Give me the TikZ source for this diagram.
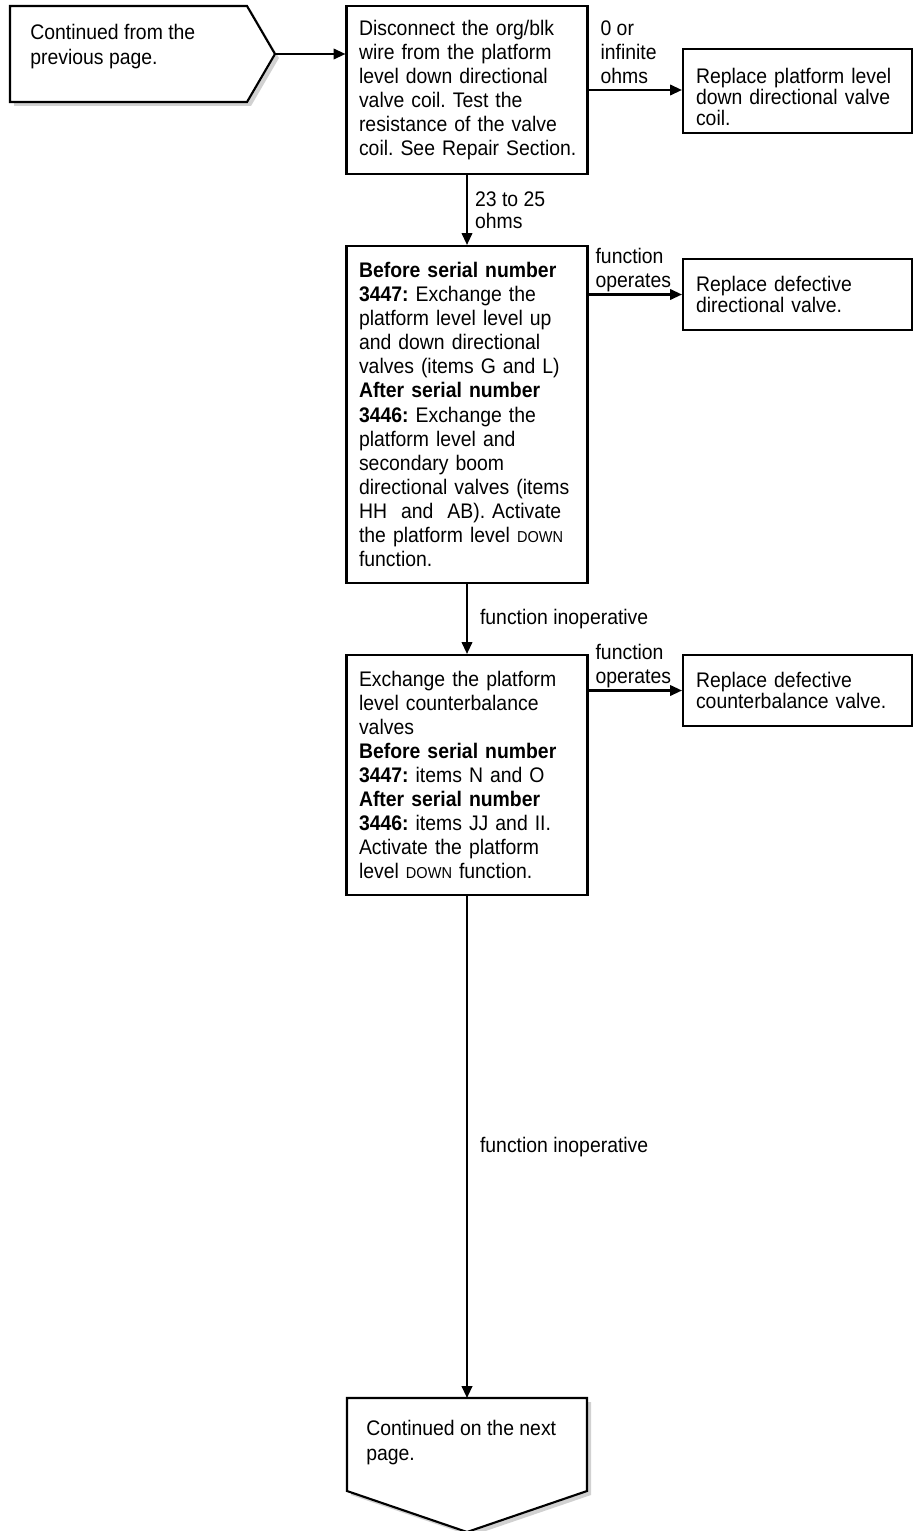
\documentclass[tikz,border=0pt]{standalone}
\usepackage{fontspec}
\setmainfont{Liberation Sans}[FakeStretch=0.92]
\usetikzlibrary{arrows.meta,positioning,calc}

\tikzset{
  box/.style={rectangle, draw, line width=1.2pt, fill=white, align=left,
    inner xsep=0.25cm, text width=4.32cm, font=\fontsize{12}{13.7}\selectfont},
  rbox/.style={rectangle, draw, line width=1.2pt, fill=white, align=left,
    inner xsep=0.26cm, text width=4.06cm, font=\fontsize{12}{12.2}\selectfont},
  lbl/.style={align=left, inner sep=0pt, font=\fontsize{12}{13.6}\selectfont},
  arr/.style={line width=1.2pt, -{Triangle[length=6.8pt,width=6pt]}},
  shade/.style={fill=black!18},
  conn/.style={draw, line width=1.2pt, fill=white},
}
\newcommand{\dwn}{{\fontsize{9}{10}\selectfont DOWN}}

\begin{document}
\frenchspacing
\begin{tikzpicture}[x=0.02cm, y=-0.02cm]
    \useasboundingbox (0,0) rectangle (914,1531);

    % Continued from previous page
    \fill[shade] (14,10) -- (251,10) -- (279,58) -- (251,106) -- (14,106) -- cycle;
    \path[conn] (10,6) -- (247,6) -- (275,54) -- (247,102) -- (10,102) -- cycle;
    \node[lbl, font=\fontsize{12}{14.2}\selectfont, anchor=west] (prev) at (30,46.5) {Continued from the\\ previous page.};
    \coordinate (prevtip) at (275,54);

    % Main column
    \node[box, minimum height=3.36cm] (disc) at (467,90) {Disconnect the org/blk\\ wire from the platform\\ level down directional\\ valve coil. Test the\\ resistance of the valve\\ \mbox{coil. See Repair Section.}};
    \node[box, minimum height=6.74cm] (swap) at (467,414.5) {\textbf{Before serial number}\\ \textbf{3447:} Exchange the\\ platform level level up\\ and down directional\\ valves (items G and L)\\ \textbf{After serial number}\\ \textbf{3446:} Exchange the\\ platform level and\\ secondary boom\\ \mbox{directional valves (items}\\ HH\ \ and\ \ AB). Activate\\ the platform level \dwn\\ function.};
    \node[box, minimum height=4.8cm] (cbal) at (467,775) {Exchange the platform\\ level counterbalance\\ valves\\ \textbf{Before serial number}\\ \textbf{3447:} items N and O\\ \textbf{After serial number}\\ \textbf{3446:} items JJ and II.\\ Activate the platform\\ level \dwn\ function.};

    % Right column
    \node[rbox, minimum height=1.68cm] (coil) at (797.5,91) {\rule{0pt}{15.5pt}Replace platform level\\ down directional valve\\ coil.};
    \node[rbox, minimum height=1.42cm] (dirv) at (797.5,294.5) {Replace defective\\ directional valve.};
    \node[rbox, minimum height=1.42cm] (cbv) at (797.5,690.5) {Replace defective\\ counterbalance valve.};

    % Continued on next page
    \fill[shade] (351,1402) -- (591,1402) -- (591,1495) -- (471,1536) -- (351,1495) -- cycle;
    \path[conn] (347,1398) -- (587,1398) -- (587,1491) -- (467,1532) -- (347,1491) -- cycle;
    \node[lbl, font=\fontsize{12}{14.2}\selectfont, anchor=west] (next) at (366,1443) {Continued on the next\\ page.};
    \coordinate (nexttop) at (467,1398);

    % Connections
    \draw[arr] (prevtip) -- (prevtip -| disc.west);
    \draw[arr] (disc.east) -- (disc.east -| coil.west)
        node[at start, lbl, anchor=south west, xshift=0.22cm, yshift=0.1cm] {0 or\\ infinite\\ ohms};
    \draw[arr] (disc) -- (swap)
        node[midway, lbl, font=\fontsize{12}{12.5}\selectfont, anchor=west, xshift=0.14cm] {23 to 25\\ ohms};
    \draw[arr] (swap.east |- dirv.west) -- (dirv.west)
        node[at start, lbl, anchor=south west, xshift=0.12cm, yshift=0.04cm] {function\\ operates};
    \draw[arr] (swap) -- (cbal)
        node[midway, lbl, anchor=west, xshift=0.24cm] {function inoperative};
    \draw[arr] (cbal.east |- cbv.west) -- (cbv.west)
        node[at start, lbl, anchor=south west, xshift=0.12cm, yshift=0.04cm] {function\\ operates};
    \draw[arr] (cbal.south) -- (nexttop)
        node[midway, lbl, anchor=west, xshift=0.24cm] {function inoperative};
\end{tikzpicture}
\end{document}
